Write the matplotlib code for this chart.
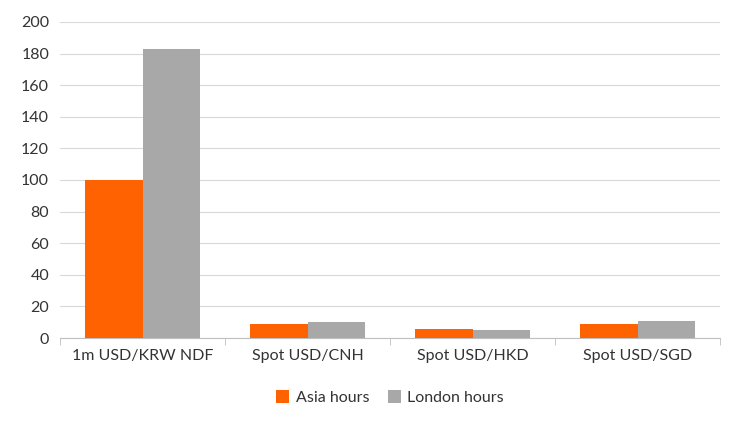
import matplotlib
matplotlib.use('Agg')
import matplotlib.pyplot as plt
import numpy as np

# ------------------ Data ------------------
categories = ['1m USD/KRW NDF', 'Spot USD/CNH', 'Spot USD/HKD', 'Spot USD/SGD']
asia_hours = [100, 9, 6, 9]
london_hours = [183, 10, 5, 11]

# ------------------ Figure ------------------
plt.rcParams['font.family'] = ['Lato', 'DejaVu Sans']
fig = plt.figure(figsize=(7.44, 4.22), dpi=100)
ax = fig.add_axes([0.081, 0.199, 0.887, 0.749])

x = np.arange(len(categories))
w = 0.35
ax.bar(x - w / 2, asia_hours, w, color='#FF6200', label='Asia hours', zorder=3)
ax.bar(x + w / 2, london_hours, w, color='#A8A8A8', label='London hours', zorder=3)

ax.set_xlim(-0.5, len(categories) - 0.5)
ax.set_ylim(0, 200)
ax.set_yticks(range(0, 201, 20))
ax.grid(axis='y', color='#D9D9D9', linewidth=0.8, zorder=0)

ax.set_xticks(x)
ax.set_xticklabels(categories)
ax.set_xticks(np.arange(-0.5, len(categories)), minor=True)
ax.tick_params(axis='x', which='major', length=0, pad=8)
ax.tick_params(axis='x', which='minor', length=5, color='#BFBFBF')
ax.tick_params(axis='y', length=0, pad=8)
ax.tick_params(labelsize=11.5, colors='#333333')

for s in ['top', 'right', 'left']:
    ax.spines[s].set_visible(False)
ax.spines['bottom'].set_color('#BFBFBF')

ax.legend(loc='upper center', bbox_to_anchor=(0.5, -0.12), ncol=2, frameon=False,
          fontsize=11.5, handlelength=0.8, handleheight=0.8, columnspacing=1.2,
          handletextpad=0.4, labelcolor='#333333')

fig.savefig('out.png', dpi=100)
